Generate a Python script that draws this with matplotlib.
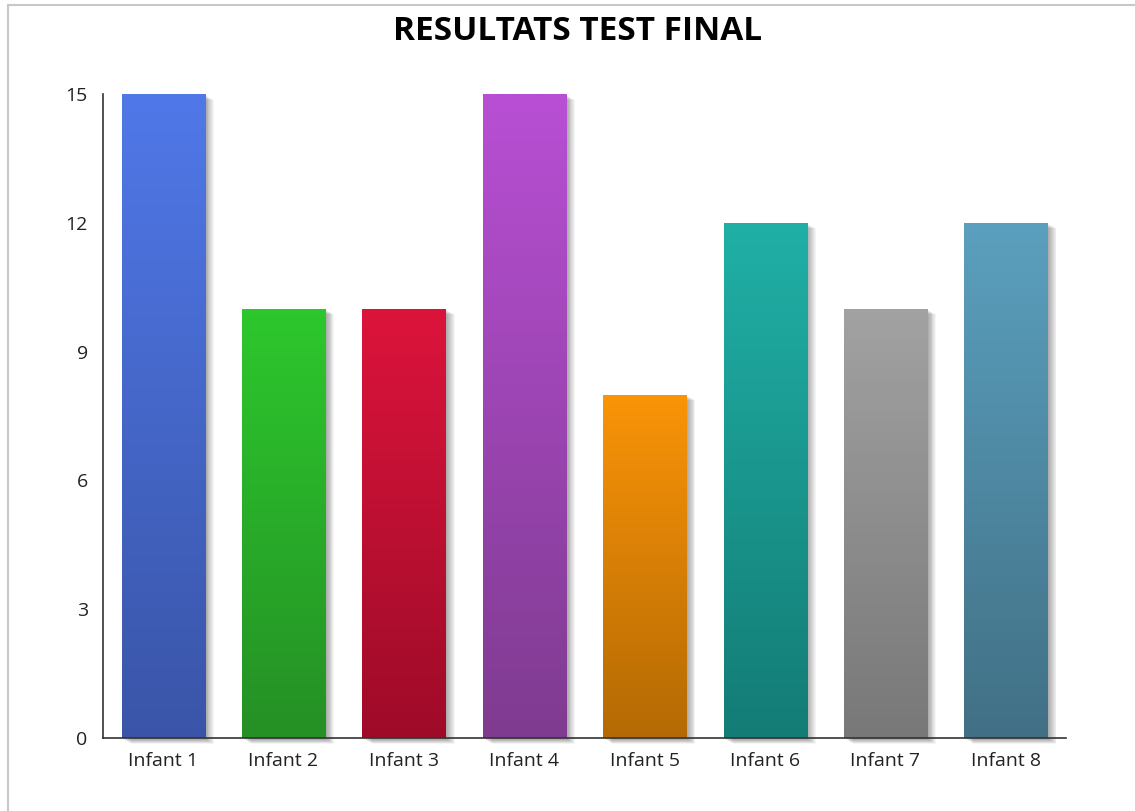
import numpy as np
import matplotlib
matplotlib.use("Agg")
import matplotlib.pyplot as plt
from matplotlib.patches import Rectangle
from matplotlib.colors import to_rgb
import matplotlib.transforms as mtransforms
from matplotlib.lines import Line2D

categories = ["Infant 1", "Infant 2", "Infant 3", "Infant 4", "Infant 5", "Infant 6", "Infant 7", "Infant 8"]
values = [15, 10, 10, 15, 8, 12, 10, 12]
top_colors = ["#5078E8", "#2DC82D", "#DC143C", "#B84FD4", "#FA9408", "#20B0A6", "#A2A2A2", "#5BA0BE"]
bottom_colors = ["#3A55A8", "#259025", "#9E0B28", "#7F3B90", "#B46A04", "#137C75", "#787878", "#417085"]
yticks = [0, 3, 6, 9, 12, 15]
title = "RESULTATS TEST FINAL"

plt.rcParams['font.family'] = ['Open Sans', 'DejaVu Sans']

fig = plt.figure(figsize=(11.35, 8.11), dpi=100)
fig.patch.set_facecolor("white")
# border lines (top and left)
fig.add_artist(Line2D([8/1135, 1.0], [1-5/811, 1-5/811], transform=fig.transFigure, color="#C8C8C8", lw=1.5))
fig.add_artist(Line2D([8/1135, 8/1135], [0, 1-5/811], transform=fig.transFigure, color="#C8C8C8", lw=1.5))

ax = fig.add_axes([103/1135, 73/811, (1066-103)/1135, (738-94)/811])
ax.set_xlim(-0.5, len(categories) - 0.5)
ax.set_ylim(0, 15)
width = 0.69

for i, (v, tc, bc) in enumerate(zip(values, top_colors, bottom_colors)):
    x0 = i - width / 2
    # shadow
    for k in range(10):
        dx = 1 + k * 0.9
        dy = -(1 + k * 0.5)
        tr = mtransforms.offset_copy(ax.transData, fig=fig, x=dx, y=dy, units='dots')
        ax.add_patch(Rectangle((x0, 0), width, v, transform=tr, facecolor="black",
                               edgecolor="none", alpha=0.04, zorder=1, clip_on=False))
    rect = Rectangle((x0, 0), width, v, facecolor="none", edgecolor="none", zorder=3)
    ax.add_patch(rect)
    t = np.linspace(0, 1, 256)[:, None]
    c_top = np.array(to_rgb(tc))
    c_bot = np.array(to_rgb(bc))
    grad = c_bot[None, None, :] * (1 - t[..., None]) + c_top[None, None, :] * t[..., None]
    grad = np.repeat(grad, 2, axis=1)
    im = ax.imshow(grad, extent=[x0, x0 + width, 0, v], origin='lower', aspect='auto',
                   zorder=3, interpolation='bilinear')
    im.set_clip_path(rect)

ax.set_xlim(-0.5, len(categories) - 0.5)
ax.set_ylim(0, 15)
ax.set_xticks(range(len(categories)))
ax.set_xticklabels(categories, fontsize=14, color="#222222")
ax.set_yticks(yticks)
ax.set_yticklabels([str(y) for y in yticks], fontsize=14, color="#222222")
ax.tick_params(axis='both', length=0)
ax.tick_params(axis='y', pad=11)
ax.tick_params(axis='x', pad=10)
for s in ["top", "right"]:
    ax.spines[s].set_visible(False)
ax.spines["left"].set_color("#333333")
ax.spines["bottom"].set_color("#333333")
ax.spines["left"].set_linewidth(1.2)
ax.spines["bottom"].set_linewidth(1.2)
ax.spines["left"].set_zorder(5)
ax.spines["bottom"].set_zorder(5)

fig.text(578/1135, 1 - 32/811, title, ha="center", va="center", fontsize=24, fontweight="bold", color="black")

fig.savefig("out.png", dpi=100, facecolor="white")
